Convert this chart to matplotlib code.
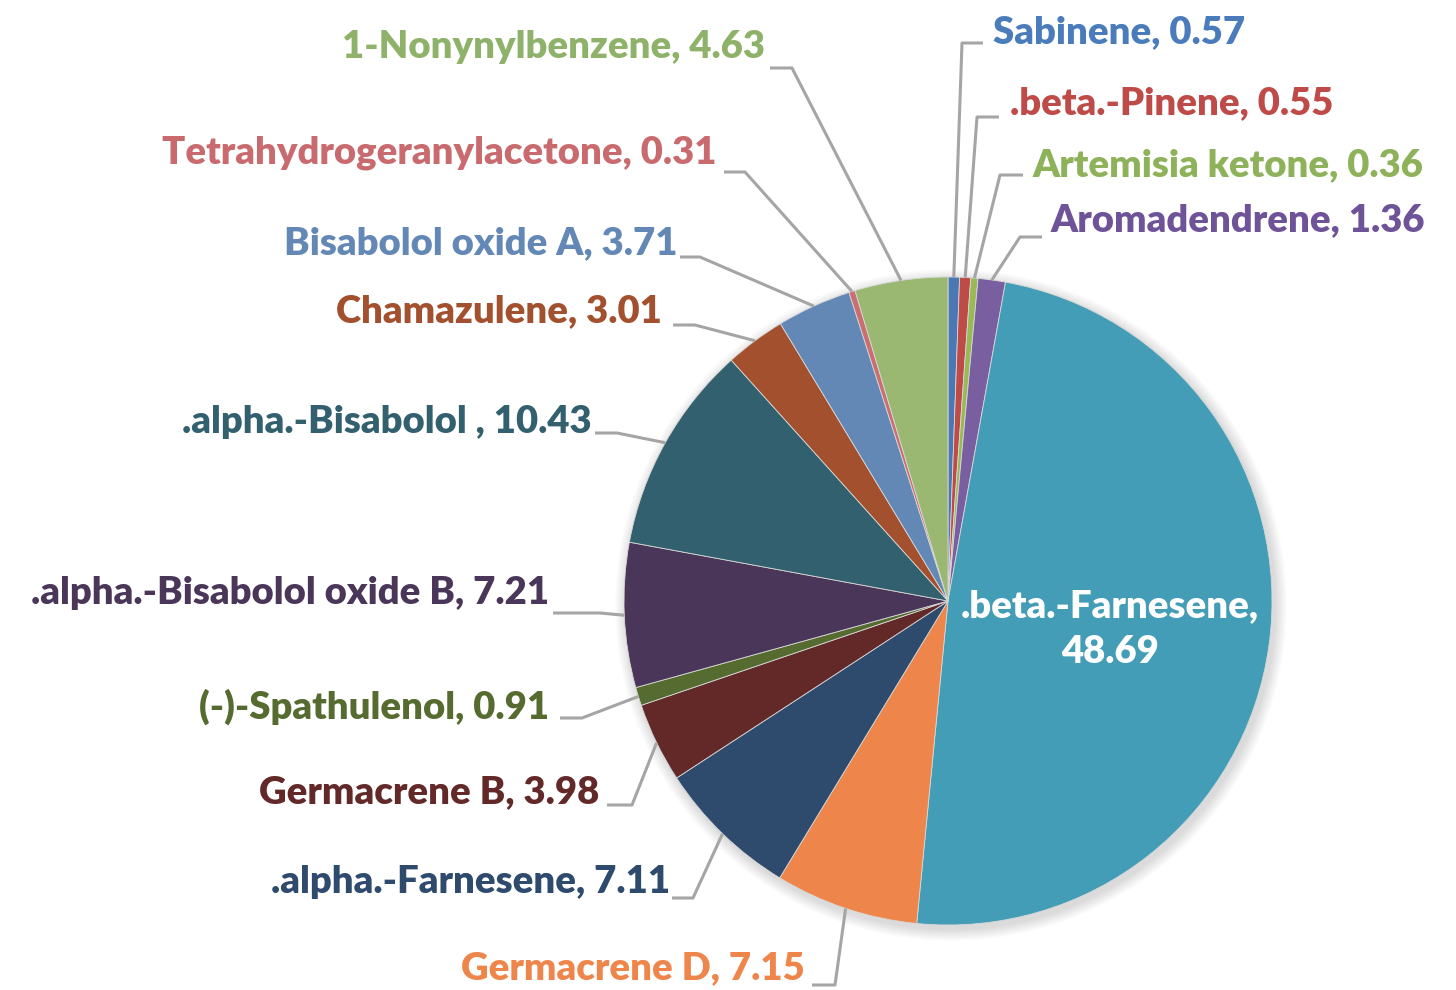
import numpy as np
import matplotlib
matplotlib.use('Agg')
from matplotlib import pyplot as plt
from matplotlib.patches import Circle

# slice data, clockwise from 12 o'clock
names = ['Sabinene', '.beta.-Pinene', 'Artemisia ketone', 'Aromadendrene',
         '.beta.-Farnesene', 'Germacrene D', '.alpha.-Farnesene', 'Germacrene B',
         '(-)-Spathulenol', '.alpha.-Bisabolol oxide B', '.alpha.-Bisabolol ',
         'Chamazulene', 'Bisabolol oxide A', 'Tetrahydrogeranylacetone',
         '1-Nonynylbenzene']
values = [0.57, 0.55, 0.36, 1.36, 48.69, 7.15, 7.11, 3.98, 0.91, 7.21,
          10.43, 3.01, 3.71, 0.31, 4.63]
colors = ['#4A78B5', '#BE4B48', '#98B954', '#7A5FA0', '#439DB6', '#EE854A',
          '#2E4A6C', '#632929', '#556B2F', '#4A3658', '#33606E', '#A2502D',
          '#6388B6', '#CB6E70', '#9BB873']
label_colors = ['#4A7CBB', '#BE4B48', '#8DB25A', '#6E5399', '#FFFFFF', '#EE854A',
                '#2E4A6C', '#632929', '#556B2F', '#4A3658', '#33606E', '#A2502D',
                '#6388B6', '#C96B6E', '#8FB26A']

# layout in pixel coords (y downward)
cx, cy, r = 948, 601, 324
text_pos = [(993, 32), (1010, 103), (1032, 165), (1050, 220), None,
            (805, 968), (670, 882), (599, 792), (549, 707), (549, 593),
            (592, 422), (662, 311), (678, 243), (717, 153), (765, 47)]
elbows = [(962, 43), (977, 117), (1000, 175), (1020, 237), None,
          (835, 985), (693, 898), (632, 805), (582, 718), (600, 613),
          (617, 433), (695, 325), (700, 257), (745, 172), (792, 68)]
seg_ends = [983, 999, 1023, 1042, None, 812, 672, 607, 560, 553,
            595, 673, 680, 724, 770]

plt.rcParams['font.family'] = ['Lato', 'DejaVu Sans']
fig = plt.figure(figsize=(14.56, 9.9), dpi=100)
ax = fig.add_axes([0, 0, 1, 1])

# soft shadow
for k in range(12):
    ax.add_patch(Circle((cx + 3, cy + 4), r + 12 - k, color='black', alpha=0.012, lw=0, zorder=1))

# y axis is flipped below, so startangle=-90 is 12 o'clock and ccw turns into cw
wedges, _ = ax.pie(values, colors=colors, startangle=-90, counterclock=True,
                   radius=r, center=(cx, cy), frame=True,
                   wedgeprops=dict(linewidth=0.6, edgecolor='#D8D8D8', zorder=2))
ax.set_xlim(0, 1456)
ax.set_ylim(990, 0)
ax.set_aspect('equal')
ax.axis('off')

fs = 27.5
fw = 'heavy'
total = sum(values)
cum = 0
for i, v in enumerate(values):
    mid = (cum + v / 2) / total * 360
    cum += v
    px = cx + r * np.sin(np.radians(mid))
    py = cy - r * np.cos(np.radians(mid))
    if text_pos[i] is None:
        ax.text(1110, 629, names[i] + ',\n' + ('%.2f' % v), color='white',
                fontsize=fs, fontweight=fw, ha='center', va='center',
                linespacing=1.45, zorder=5)
        continue
    ex, ey = elbows[i]
    ax.plot([px, ex, seg_ends[i]], [py, ey, ey], color='#A5A5A5', lw=2.2,
            zorder=3, solid_capstyle='butt')
    tx, ty = text_pos[i]
    ha = 'left' if tx > cx else 'right'
    ax.text(tx, ty, names[i] + ', ' + ('%.2f' % v), color=label_colors[i],
            fontsize=fs, fontweight=fw, ha=ha, va='center', zorder=5)

fig.savefig('out.png', dpi=100, facecolor='white')
